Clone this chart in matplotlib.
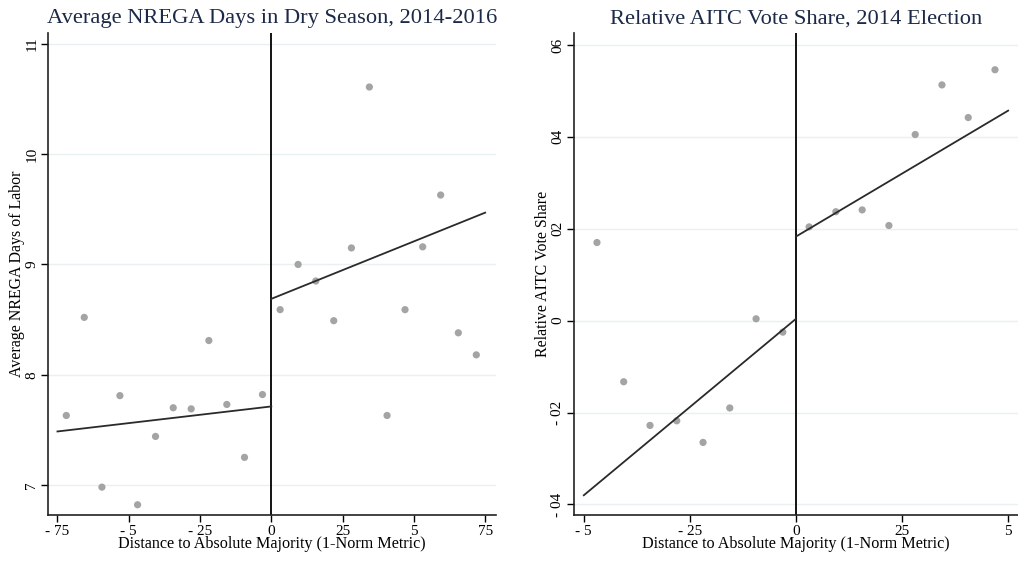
import numpy as np
import matplotlib.pyplot as plt

plt.rcParams['font.family'] = ['Liberation Serif', 'DejaVu Serif']

# left panel: binned NREGA days
nrega_x = [-0.719, -0.656, -0.594, -0.531, -0.469, -0.406, -0.344, -0.281, -0.219, -0.156, -0.094, -0.031,
           0.031, 0.094, 0.156, 0.219, 0.281, 0.344, 0.406, 0.469, 0.531, 0.594, 0.656, 0.719]
nrega_y = [7.63, 8.52, 6.98, 7.81, 6.82, 7.44, 7.70, 7.69, 8.31, 7.73, 7.25, 7.82,
           8.59, 9.00, 8.85, 8.49, 9.15, 10.61, 7.63, 8.59, 9.16, 9.63, 8.38, 8.18]
nrega_fit_left = ([-0.75, 0.0], [7.485, 7.712])
nrega_fit_right = ([0.0, 0.75], [8.688, 9.47])

# right panel: binned AITC vote share
aitc_x = [-0.469, -0.406, -0.344, -0.281, -0.219, -0.156, -0.094, -0.031,
          0.031, 0.094, 0.156, 0.219, 0.281, 0.344, 0.406, 0.469]
aitc_y = [0.0170, -0.0133, -0.0228, -0.0218, -0.0265, -0.0190, 0.0004, -0.0025,
          0.0204, 0.0237, 0.0241, 0.0207, 0.0405, 0.0513, 0.0442, 0.0546]
aitc_fit_left = ([-0.5, 0.0], [-0.0380, 0.0004])
aitc_fit_right = ([0.0, 0.5], [0.0183, 0.0457])

left_xticks = [-0.75, -0.5, -0.25, 0, 0.25, 0.5, 0.75]
left_xlabels = ['- 75', '- 5', '- 25', '0', '25', '5', '75']
left_yticks = [7, 8, 9, 10, 11]
left_ylabels = ['7', '8', '9', '10', '11']
right_xticks = [-0.5, -0.25, 0, 0.25, 0.5]
right_xlabels = ['- 5', '- 25', '0', '25', '5']
right_yticks = [-0.04, -0.02, 0, 0.02, 0.04, 0.06]
right_ylabels = ['- 04', '- 02', '0', '02', '04', '06']

fig = plt.figure(figsize=(10.18, 5.62), dpi=100)
ax1 = fig.add_axes([0.0472, 0.0836, 0.44, 0.8577])
ax2 = fig.add_axes([0.5639, 0.0836, 0.436, 0.8577])

title_color = '#1c2a48'
dot_color = '#a4a4a4'
line_color = '#2a2a2a'


def style(ax, title, ylabel, xt, xl, yt, yl):
    ax.set_title(title, fontsize=16.2, color=title_color, pad=7)
    ax.set_xlabel('Distance to Absolute Majority (1-Norm Metric)', fontsize=11.6, labelpad=-1)
    ax.set_ylabel(ylabel, fontsize=11.4, labelpad=0)
    ax.set_xticks(xt)
    ax.set_xticklabels(xl, fontsize=11)
    ax.set_yticks(yt)
    ax.set_yticklabels(yl, fontsize=11, rotation=90, va='center')
    for s in ['top', 'right']:
        ax.spines[s].set_visible(False)
    for s in ['left', 'bottom']:
        ax.spines[s].set_linewidth(1.2)
        ax.spines[s].set_color('#222222')
    ax.tick_params(direction='out', length=5, width=1, pad=2)
    ax.grid(axis='y', color='#e8f0f1', linewidth=1)
    ax.set_axisbelow(True)
    ax.axvline(0, color='black', linewidth=1.3)


ax1.scatter(nrega_x, nrega_y, s=27, color=dot_color, zorder=3, edgecolors='none')
ax1.plot(*nrega_fit_left, color=line_color, linewidth=1.3, zorder=4)
ax1.plot(*nrega_fit_right, color=line_color, linewidth=1.3, zorder=4)
ax1.set_xlim(-0.783, 0.788)
ax1.set_ylim(6.727, 11.1)
style(ax1, 'Average NREGA Days in Dry Season, 2014-2016', 'Average NREGA Days of Labor',
      left_xticks, left_xlabels, left_yticks, left_ylabels)

ax2.scatter(aitc_x, aitc_y, s=27, color=dot_color, zorder=3, edgecolors='none')
ax2.plot(*aitc_fit_left, color=line_color, linewidth=1.3, zorder=4)
ax2.plot(*aitc_fit_right, color=line_color, linewidth=1.3, zorder=4)
ax2.set_xlim(-0.523, 0.523)
ax2.set_ylim(-0.0423, 0.0626)
style(ax2, 'Relative AITC Vote Share, 2014 Election', 'Relative AITC Vote Share',
      right_xticks, right_xlabels, right_yticks, right_ylabels)

fig.savefig('out.png', dpi=100)
